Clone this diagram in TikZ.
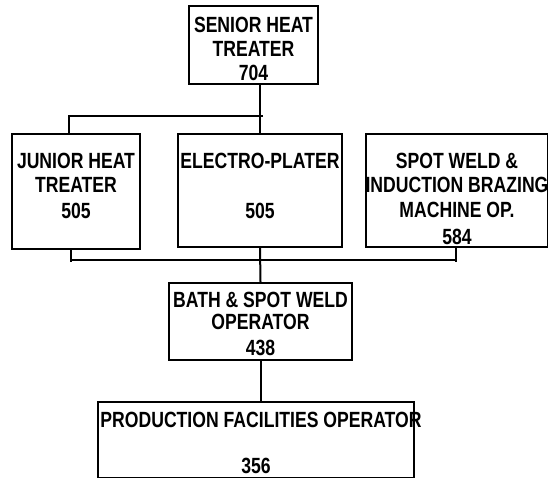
\documentclass[tikz,border=0pt]{standalone}
\usepackage{fontspec}
\setmainfont{Liberation Sans}[FakeStretch=0.8]
\newcommand\orgtext[4]{\begin{minipage}[t][#2][t]{#1}\centering\vspace*{#3}#4\par\end{minipage}}
\newcommand\wideline[1]{\makebox[\linewidth]{#1}}
\begin{document}
\begin{tikzpicture}[x=1pt,y=-1pt,line width=2pt,
  orgbox/.style={draw, inner sep=0pt, anchor=north west, font=\fontsize{22}{24}\selectfont\bfseries}]
\useasboundingbox (0,0) rectangle (548,478);
\node[orgbox] (senior) at (188,5) {\orgtext{129pt}{78pt}{11pt}{\wideline{SENIOR HEAT}\\TREATER\\704}};
\node[orgbox] (junior) at (11,133) {\orgtext{128pt}{115pt}{18.7pt}{\wideline{JUNIOR HEAT}\\TREATER\\[2.6pt]505}};
\node[orgbox] (electro) at (177,133) {\orgtext{164pt}{113pt}{18.7pt}{\wideline{ELECTRO-PLATER}\\[26.3pt]505}};
\node[orgbox] (spot) at (365,133) {\orgtext{182pt}{113pt}{19pt}{SPOT WELD \&\\\wideline{INDUCTION BRAZING}\\[1pt]MACHINE OP.\\[3pt]584}};
\node[orgbox] (bath) at (168,282) {\orgtext{183pt}{77pt}{9pt}{\wideline{BATH \& SPOT WELD}\\[-2pt]OPERATOR\\[2pt]438}};
\node[orgbox] (prod) at (97,401) {\orgtext{316pt}{76pt}{10pt}{\wideline{\hspace*{10pt}PRODUCTION FACILITIES OPERATOR}\\[22pt]356}};
\coordinate (tl) at (69,116);
\coordinate (tr) at (263,116);
\coordinate (bl) at (71,260);
\coordinate (br) at (456,260);
\coordinate (blt) at (71,262);
\coordinate (brt) at (456,262);
\draw (electro.north |- senior.south) -- (electro.north);
\draw (tr) -- (tl) -- (tl |- junior.north);
\draw (bl) -- (br);
\draw (blt |- junior.south) -- (blt);
\draw (brt |- spot.south) -- (brt);
\draw (electro.south) -- (bath.north);
\draw (bath.south) -- (bath.south |- prod.north);
\end{tikzpicture}
\end{document}
